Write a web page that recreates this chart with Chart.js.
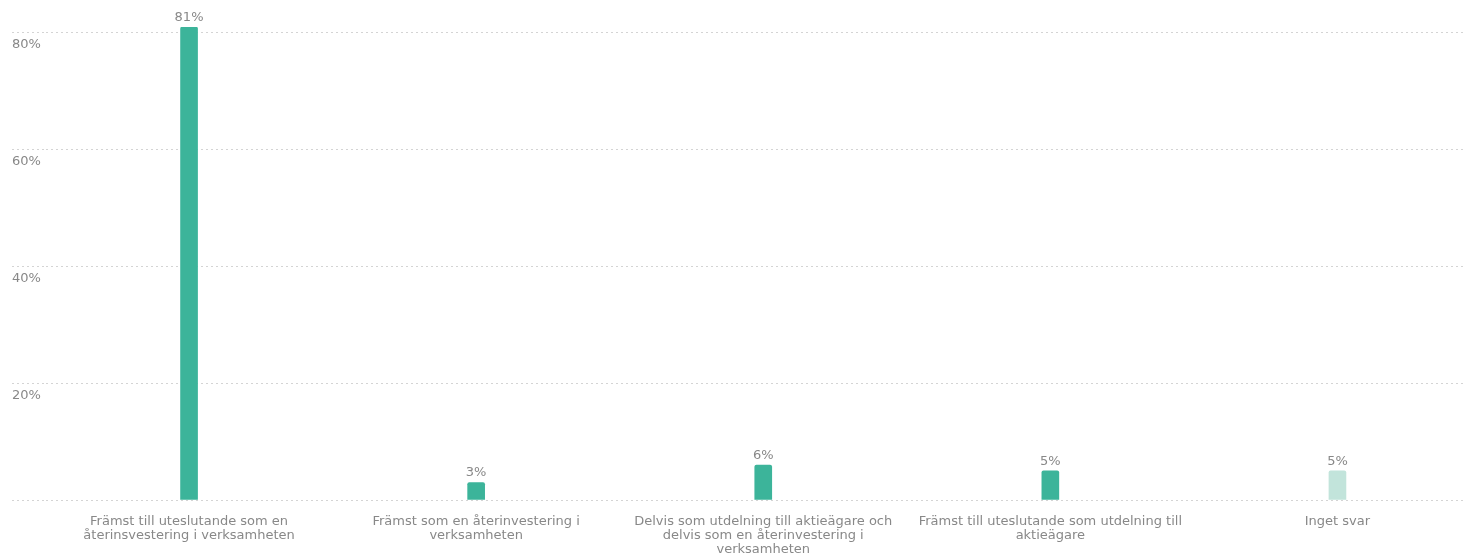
<!DOCTYPE html>
<html>
<head>
<meta charset="utf-8">
<script src="https://cdn.jsdelivr.net/npm/chart.js@4/dist/chart.umd.min.js"></script>
<style>
  html, body { margin: 0; padding: 0; background: #fff; overflow: hidden; }
  #wrap { position: relative; width: 1481px; height: 556px; }
</style>
</head>
<body>
<div id="wrap"><canvas id="myChart"></canvas></div>
<script>
// svarsalternativ (radbrutna som i diagrammet)
const categories = [
    ['Främst till uteslutande som en', 'återinsvestering i verksamheten'],
    ['Främst som en återinvestering i', 'verksamheten'],
    ['Delvis som utdelning till aktieägare och', 'delvis som en återinvestering i', 'verksamheten'],
    ['Främst till uteslutande som utdelning till', 'aktieägare'],
    ['Inget svar']
];
const values = [81, 3, 6, 5, 5];
const barColors = ['#3cb49a', '#3cb49a', '#3cb49a', '#3cb49a', '#c2e4db'];
const yTicks = [0, 20, 40, 60, 80];

const textColor = '#888888';
const gridColor = '#d4d4d4';

// skriver procentsatsen ovanför varje stapel
const valueLabels = {
    id: 'valueLabels',
    afterDatasetsDraw(chart) {
        const ctx = chart.ctx;
        const meta = chart.getDatasetMeta(0);
        ctx.save();
        ctx.font = '13px "DejaVu Sans"';
        ctx.fillStyle = textColor;
        ctx.textAlign = 'center';
        ctx.textBaseline = 'bottom';
        meta.data.forEach((bar, i) => {
            ctx.fillText(values[i] + '%', bar.x, bar.y - 3);
        });
        ctx.restore();
    }
};

new Chart(document.getElementById('myChart').getContext('2d'), {
    type: 'bar',
    data: {
        labels: categories,
        datasets: [{
            data: values,
            backgroundColor: barColors,
            barThickness: 17,
            borderRadius: 2,
            borderSkipped: 'bottom'
        }]
    },
    options: {
        responsive: true,
        maintainAspectRatio: false,
        animation: false,
        layout: { padding: { top: 27, left: 12, right: 0, bottom: 0 } },
        plugins: {
            legend: { display: false },
            tooltip: { enabled: false }
        },
        scales: {
            x: {
                grid: { display: false },
                border: { display: false },
                ticks: {
                    color: textColor,
                    font: { family: 'DejaVu Sans', size: 13, lineHeight: 1.1 },
                    padding: 6,
                    maxRotation: 0,
                    autoSkip: false
                },
                afterFit(scale) { scale.height = 56; }
            },
            y: {
                min: 0,
                max: 81,
                grid: {
                    color: gridColor,
                    lineWidth: 1,
                    tickLength: 33.5,
                    tickColor: gridColor,
                    tickBorderDash: [2, 3]
                },
                border: { display: false, dash: [2, 3] },
                afterBuildTicks(scale) {
                    scale.ticks = yTicks.map(v => ({ value: v }));
                },
                ticks: {
                    crossAlign: 'far',
                    labelOffset: 12,
                    color: textColor,
                    font: { family: 'DejaVu Sans', size: 13 },
                    callback: v => (v === 0 ? '' : v + '%')
                },
                afterFit(scale) { scale.width = 33.5; }
            }
        }
    },
    plugins: [valueLabels]
});
</script>
</body>
</html>
